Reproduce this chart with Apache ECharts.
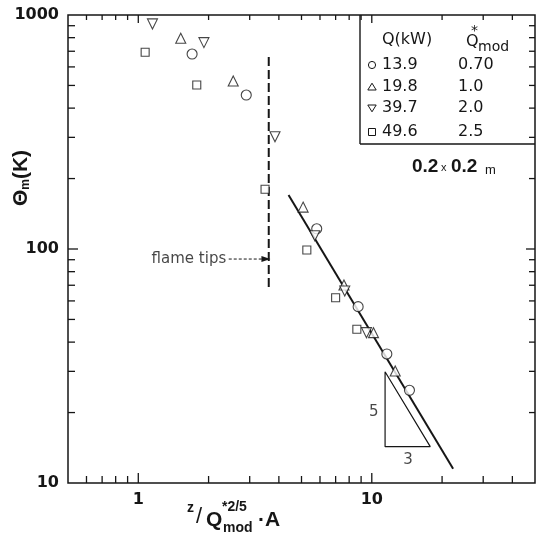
<!DOCTYPE html>
<html>
<head>
<meta charset="utf-8">
<script src="https://cdn.jsdelivr.net/npm/echarts@6/dist/echarts.min.js"></script>
<style>
  html, body { margin: 0; padding: 0; background: #fff; }
  #chart { width: 539px; height: 535px; }
</style>
</head>
<body>
<div id="chart"></div>
<script>
// Fire sizes: heat release rate Q (kW) and modified dimensionless rate Q*mod
const heatKW = ['13.9', '19.8', '39.7', '49.6'];
const qMod = ['0.70', '1.0', '2.0', '2.5'];

// Centre-line excess temperature: [z / Q*mod^(2/5)·A, Θm (K)]
const circleData = [[1.70, 681], [2.90, 455], [5.81, 122], [8.74, 56.7], [11.6, 35.6], [14.5, 24.9]];
const triUpData = [[1.52, 795], [2.55, 522], [5.08, 151], [7.6, 70.2], [10.17, 43.9], [12.6, 30.1]];
const triDownData = [[1.15, 916], [1.91, 762], [3.85, 302], [5.70, 114], [7.66, 66.1], [9.49, 43.9]];
const squareData = [[1.07, 693], [1.78, 502], [3.49, 180], [5.27, 99], [7.0, 61.9], [8.63, 45.4]];

// Plume region: Θm falls with the -5/3 power
const fitLine = [[4.4, 170], [22.3, 11.5]];
const slopeTriangle = [[11.4, 29.9], [11.4, 14.3], [17.8, 14.3], [11.4, 29.9]];
const slopeLabels = [[10.2, 20.1, '5'], [14.3, 12.5, '3']];

// Mean flame-tip position
const flameTipLine = [[3.62, 662], [3.62, 66.8]];
const flameTipArrow = [[2.44, 90.6], [3.52, 90.6]];

// Axes
const xRange = [0.5, 50];
const yRange = [10, 1000];
const xTickLabels = [1, 10];
const yTickLabels = [10, 100, 1000];
const xTicks = [0.6, 0.7, 0.8, 0.9, 1, 2, 3, 4, 5, 6, 7, 8, 9, 10, 20, 30, 40];
const yTicks = [20, 30, 40, 50, 60, 70, 80, 90, 100, 200, 300, 400, 500, 600, 700, 800, 900];

const INK = '#161616';
const SANS = '"DejaVu Sans", sans-serif';
const ARIAL = '"Liberation Sans", Arial, sans-serif';

const chart = echarts.init(document.getElementById('chart'), null, { renderer: 'canvas' });

function isListed(list, v) {
  return list.some(t => Math.abs(t - v) / t < 1e-6);
}

// Inward tick marks on all four sides of the frame
function tickSeries(values, dim) {
  return {
    type: 'custom',
    silent: true,
    z: 6,
    clip: false,
    data: values.map(v => dim === 'x' ? [v, yRange[0]] : [xRange[0], v]),
    renderItem: function (params, api) {
      const v = api.value(dim === 'x' ? 0 : 1);
      const lg = Math.log10(v);
      const major = Math.abs(lg - Math.round(lg)) < 1e-6;
      const len = major ? 10 : 7;
      const style = { stroke: INK, lineWidth: 1.3 };
      let a, b, shapes;
      if (dim === 'x') {
        a = api.coord([v, yRange[0]]);
        b = api.coord([v, yRange[1]]);
        shapes = [
          { x1: a[0], y1: a[1], x2: a[0], y2: a[1] - len },
          { x1: b[0], y1: b[1], x2: b[0], y2: b[1] + len - 2 }
        ];
      } else {
        a = api.coord([xRange[0], v]);
        b = api.coord([xRange[1], v]);
        shapes = [
          { x1: a[0], y1: a[1], x2: a[0] + len, y2: a[1] },
          { x1: b[0], y1: b[1], x2: b[0] - len + 1, y2: b[1] }
        ];
      }
      return {
        type: 'group',
        children: shapes.map(s => ({ type: 'line', shape: s, style: style }))
      };
    }
  };
}

function pointSeries(name, data, symbol, size, rotate) {
  return {
    name: name,
    type: 'scatter',
    data: data,
    symbol: symbol,
    symbolSize: size,
    symbolRotate: rotate || 0,
    itemStyle: { color: '#fff', borderColor: INK, borderWidth: 1.1 },
    z: 4
  };
}

// Legend table in the upper-right corner
const legendRows = [65, 87, 108, 132];
const legendMarkers = [
  cy => ({ type: 'circle', shape: { cx: 372, cy: cy, r: 3.6 } }),
  cy => ({ type: 'polygon', shape: { points: [[372, cy - 3.8], [376.2, cy + 3], [367.8, cy + 3]] } }),
  cy => ({ type: 'polygon', shape: { points: [[372, cy + 3.8], [376.2, cy - 3], [367.8, cy - 3]] } }),
  cy => ({ type: 'rect', shape: { x: 368.5, y: cy - 3.5, width: 7, height: 7 } })
];
function txt(x, y, text, size, family, weight, extra) {
  return Object.assign({
    type: 'text', x: x, y: y,
    style: { text: text, fontSize: size, fontFamily: family, fontWeight: weight || 'normal', fill: INK, verticalAlign: 'middle' }
  }, extra || {});
}
const graphics = [
  { type: 'line', shape: { x1: 360, y1: 15, x2: 360, y2: 144 }, style: { stroke: INK, lineWidth: 1.4 } },
  { type: 'line', shape: { x1: 360, y1: 144, x2: 535, y2: 144 }, style: { stroke: INK, lineWidth: 1.4 } },
  txt(382, 40, 'Q(kW)', 16, SANS),
  txt(466, 42, 'Q', 16, SANS),
  txt(471, 31, '*', 14, SANS),
  txt(478, 47, 'mod', 14, SANS)
];
heatKW.forEach((q, i) => {
  const cy = legendRows[i];
  const m = legendMarkers[i](cy);
  m.style = { fill: '#fff', stroke: INK, lineWidth: 1 };
  graphics.push(m);
  graphics.push(txt(382, cy, q, 16, SANS));
  graphics.push(txt(458, cy, qMod[i], 16, SANS));
});

// Burner size note
graphics.push(
  txt(412, 167, '0.2', 19, ARIAL, 'bold'),
  txt(441, 168, 'x', 11, ARIAL),
  txt(451, 167, '0.2', 19, ARIAL, 'bold'),
  txt(485, 170, 'm', 13, ARIAL)
);

// Axis titles
graphics.push(
  {
    type: 'text', x: 21, y: 178, rotation: Math.PI / 2,
    style: {
      text: '{a|Θ}{b|m}{a|(K)}', align: 'center', verticalAlign: 'middle',
      rich: {
        a: { fontSize: 21, fontFamily: ARIAL, fontWeight: 'bold', fill: INK },
        b: { fontSize: 12, fontFamily: ARIAL, fontWeight: 'bold', fill: INK, padding: [10, 0, 0, 0] }
      }
    }
  },
  txt(187, 508, 'z', 14, ARIAL, 'bold'),
  txt(196, 517, '/', 22, ARIAL),
  txt(206, 520, 'Q', 21, ARIAL, 'bold'),
  txt(222, 507, '*2/5', 14, ARIAL, 'bold'),
  txt(223, 528, 'mod', 14, ARIAL, 'bold'),
  txt(258, 520, '·A', 21, ARIAL, 'bold')
);

const option = {
  animation: false,
  backgroundColor: '#fff',
  grid: { left: 68, right: 4, top: 15, bottom: 52, show: true, borderColor: INK, borderWidth: 1.5, backgroundColor: 'transparent' },
  xAxis: {
    type: 'log', logBase: 10, min: xRange[0], max: xRange[1],
    axisLine: { show: false }, axisTick: { show: false }, splitLine: { show: false },
    axisLabel: {
      margin: 9, showMinLabel: false, showMaxLabel: false,
      fontSize: 16, fontWeight: 'bold', fontFamily: SANS, color: INK,
      formatter: v => isListed(xTickLabels, v) ? String(Math.round(v)) : ''
    }
  },
  yAxis: {
    type: 'log', logBase: 10, min: yRange[0], max: yRange[1],
    axisLine: { show: false }, axisTick: { show: false }, splitLine: { show: false },
    axisLabel: {
      margin: 9, fontSize: 16, fontWeight: 'bold', fontFamily: SANS, color: INK,
      formatter: v => isListed(yTickLabels, v) ? String(Math.round(v)) : ''
    }
  },
  graphic: graphics,
  series: [
    tickSeries(xTicks, 'x'),
    tickSeries(yTicks, 'y'),
    {
      name: 'flame tips', type: 'line', data: flameTipLine, showSymbol: false, silent: true,
      lineStyle: { color: INK, width: 2, type: [9, 4] }, z: 3
    },
    {
      name: 'flame tip arrow', type: 'line', silent: true, z: 3,
      data: [
        { value: flameTipArrow[0], symbol: 'none' },
        { value: flameTipArrow[1], symbol: 'triangle', symbolRotate: -90, symbolSize: [6, 9] }
      ],
      showSymbol: true,
      itemStyle: { color: INK },
      lineStyle: { color: INK, width: 1, type: [3, 2] }
    },
    {
      name: 'flame tips label', type: 'scatter', silent: true, symbolSize: 1,
      itemStyle: { color: 'transparent' },
      data: [flameTipArrow[0]],
      label: {
        show: true, position: 'left', distance: 2, formatter: 'flame tips',
        fontSize: 15, fontFamily: SANS, color: INK
      }
    },
    {
      name: 'plume -5/3', type: 'line', data: fitLine, showSymbol: false, silent: true,
      lineStyle: { color: INK, width: 2 }, z: 3
    },
    {
      name: 'slope', type: 'line', data: slopeTriangle, showSymbol: false, silent: true,
      lineStyle: { color: INK, width: 1.2 }, z: 3
    },
    {
      name: 'slope labels', type: 'scatter', silent: true, symbolSize: 1,
      itemStyle: { color: 'transparent' },
      data: slopeLabels.map(d => ({ value: [d[0], d[1]], name: d[2] })),
      label: { show: true, position: 'inside', formatter: p => p.name, fontSize: 15, fontFamily: SANS, color: INK }
    },
    pointSeries('13.9 kW', circleData, 'circle', 10),
    pointSeries('19.8 kW', triUpData, 'triangle', 10),
    pointSeries('39.7 kW', triDownData, 'triangle', 10, 180),
    pointSeries('49.6 kW', squareData, 'rect', 8)
  ]
};

chart.setOption(option);
</script>
</body>
</html>
